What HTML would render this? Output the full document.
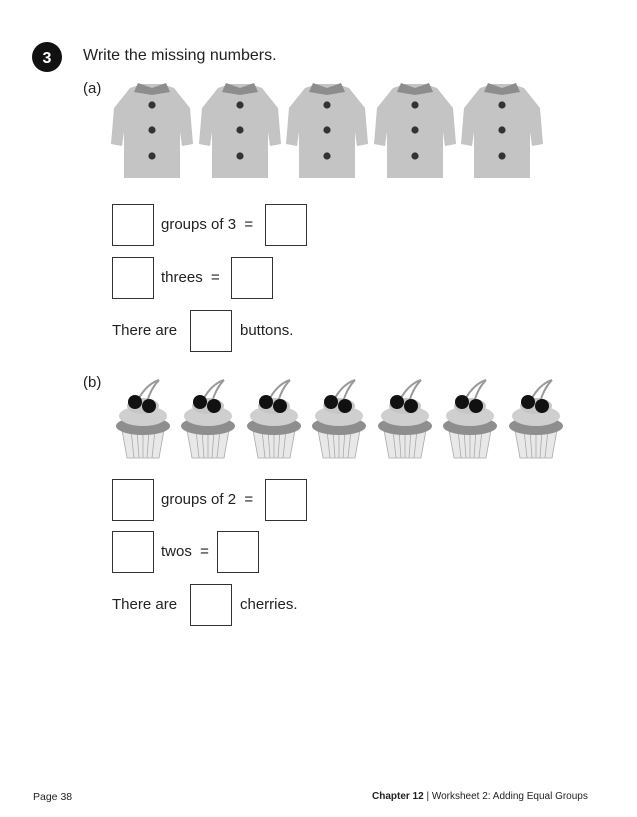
<!DOCTYPE html>
<html><head><meta charset="utf-8"><style>
body{margin:0;width:637px;height:817px;background:#fff;position:relative;font-family:"Liberation Sans",sans-serif;color:#222;overflow:hidden}
.t{position:absolute;font-size:15px;white-space:nowrap}
.b{position:absolute;width:40px;height:40px;border:1.3px solid #333;background:#fff}
</style></head><body>
<svg width="637" height="817" style="position:absolute;left:0;top:0">
<defs>
<g id="shirt">
<path d="M-22,-42 L-10,-46 L10,-46 L22,-42 L38,-22 L41,14 L30,16 L28,2 L28,48 L-28,48 L-28,2 L-30,16 L-41,14 L-38,-22 Z" fill="#c4c4c4"/>
<path d="M-14,-47 L0,-42 L14,-47 L18,-38 L0,-35 L-18,-38 Z" fill="#8d8d8d"/>
<circle cx="0" cy="-25" r="3.6" fill="#333"/><circle cx="0" cy="0" r="3.6" fill="#333"/><circle cx="0" cy="26" r="3.6" fill="#333"/>
</g>
<g id="cake">
<path d="M-21,12 L21,12 L16,40 L-16,40 Z" fill="#e8e8e8" stroke="#aaa" stroke-width="0.8"/>
<path d="M-12,12 L-9,40 M-6,12 L-4,40 M0,12 L0,40 M6,12 L4,40 M12,12 L9,40" stroke="#aaa" stroke-width="0.8"/>
<ellipse cx="0" cy="8" rx="27" ry="9" fill="#8e8e8e"/>
<ellipse cx="0" cy="-2" rx="24" ry="10" fill="#cfcfcf"/>
<ellipse cx="0" cy="-12" rx="16" ry="8" fill="#c6c6c6"/>
<path d="M-4,-20 Q4,-34 16,-38" stroke="#999" stroke-width="2" fill="none"/>
<path d="M4,-16 Q8,-30 16,-38" stroke="#999" stroke-width="2" fill="none"/>
<circle cx="-8" cy="-16" r="7" fill="#111"/><circle cx="6" cy="-12" r="7" fill="#111"/>
</g>
</defs>
<circle cx="47" cy="57" r="15" fill="#111"/>
<text x="47" y="63" font-family="Liberation Sans" font-weight="bold" font-size="16" fill="#fff" text-anchor="middle">3</text>
<use href="#shirt" x="152" y="130"/><use href="#shirt" x="240" y="130"/><use href="#shirt" x="327" y="130"/><use href="#shirt" x="415" y="130"/><use href="#shirt" x="502" y="130"/>
<use href="#cake" x="143" y="418"/><use href="#cake" x="208" y="418"/><use href="#cake" x="274" y="418"/><use href="#cake" x="339" y="418"/><use href="#cake" x="405" y="418"/><use href="#cake" x="470" y="418"/><use href="#cake" x="536" y="418"/>
</svg>
<div class="t" style="left:83px;top:47px;font-size:16px">Write the missing numbers.</div>
<div class="t" style="left:83px;top:80px">(a)</div>
<div class="b" style="left:112px;top:204px"></div><div class="t" style="left:161px;top:216px">groups of 3 &nbsp;=</div><div class="b" style="left:265px;top:204px"></div>
<div class="b" style="left:112px;top:257px"></div><div class="t" style="left:161px;top:269px">threes &nbsp;=</div><div class="b" style="left:231px;top:257px"></div>
<div class="t" style="left:112px;top:322px">There are</div><div class="b" style="left:190px;top:310px"></div><div class="t" style="left:240px;top:322px">buttons.</div>
<div class="t" style="left:83px;top:374px">(b)</div>
<div class="b" style="left:112px;top:479px"></div><div class="t" style="left:161px;top:491px">groups of 2 &nbsp;=</div><div class="b" style="left:265px;top:479px"></div>
<div class="b" style="left:112px;top:531px"></div><div class="t" style="left:161px;top:543px">twos &nbsp;=</div><div class="b" style="left:217px;top:531px"></div>
<div class="t" style="left:112px;top:596px">There are</div><div class="b" style="left:190px;top:584px"></div><div class="t" style="left:240px;top:596px">cherries.</div>
<div class="t" style="left:33px;top:791px;font-size:10.5px">Page 38</div>
<div class="t" style="left:372px;top:791px;font-size:10px"><b>Chapter 12</b> | Worksheet 2: Adding Equal Groups</div>
</body></html>
